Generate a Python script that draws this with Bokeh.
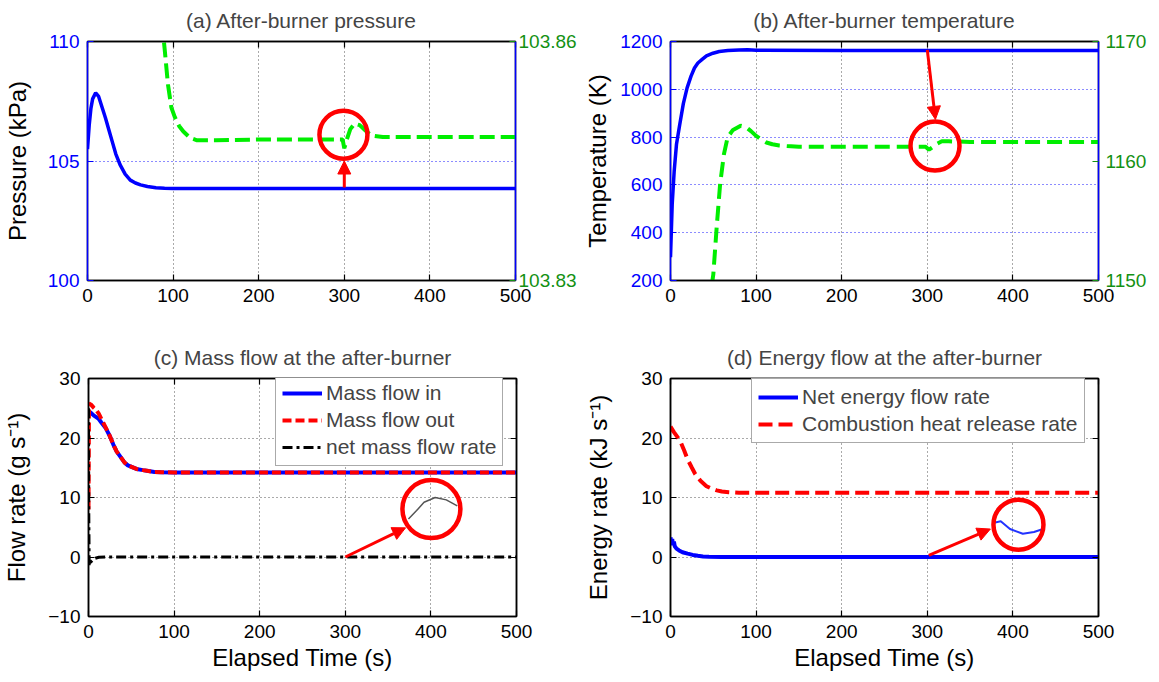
from bokeh.plotting import figure
from bokeh.models import (Range1d, LinearAxis, SingleIntervalTicker, FixedTicker,
                          PrintfTickFormatter, Arrow, NormalHead, Legend, LegendItem, Grid)
from bokeh.layouts import column, row
from bokeh.embed import file_html
from bokeh.resources import INLINE

# ---------------- data ----------------
# (a) after-burner pressure
time_a_in = [0, 2, 4, 6, 9.5, 13, 17, 21, 25, 29, 33, 38, 44, 50, 56, 62, 70, 80, 90, 100, 200, 300, 400, 500]
press_in = [105.5, 106.5, 107.2, 107.6, 107.85, 107.7, 107.25, 106.8, 106.3, 105.8, 105.3, 104.85,
            104.45, 104.2, 104.08, 104.0, 103.93, 103.88, 103.86, 103.85, 103.85, 103.85, 103.85, 103.85]
time_a_zoom = [87, 90, 94, 98, 102, 107, 112, 120, 128, 150, 200, 250, 298, 300, 303, 307, 312, 318,
               325, 332, 345, 400, 450, 500]
press_zoom = [103.8625, 103.8592, 103.8546, 103.8517, 103.8505, 103.8494, 103.8487, 103.8479, 103.8476,
              103.8476, 103.8477, 103.8477, 103.8477, 103.8466, 103.8477, 103.8490, 103.8497, 103.8495,
              103.8488, 103.8482, 103.8480, 103.8480, 103.8480, 103.8480]

# (b) after-burner temperature
time_b_in = [0, 2, 4.3, 7, 10.8, 15, 19.4, 24, 28, 32, 36.6, 42, 49.6, 57, 67, 80, 90, 100, 200, 300, 400, 500]
temp_in = [297, 520, 658, 770, 853, 940, 1006, 1055, 1089, 1110, 1124, 1140, 1151, 1158, 1162, 1164,
           1165, 1163, 1162, 1162, 1162, 1162]
time_b_zoom = [48, 50, 54, 58, 62.5, 66.8, 73, 82, 88, 94, 100, 106, 112, 119, 127, 136, 150, 200, 250,
               298, 302, 306, 310, 317, 325, 350, 400, 450, 500]
temp_zoom = [1149.5, 1150.5, 1154.5, 1158.1, 1160.6, 1162.0, 1162.6, 1162.95, 1162.85, 1162.5, 1162.1,
             1161.8, 1161.55, 1161.4, 1161.3, 1161.25, 1161.2, 1161.2, 1161.2, 1161.2, 1160.95, 1161.15,
             1161.4, 1161.65, 1161.65, 1161.6, 1161.6, 1161.6, 1161.6]

# (c) mass flow
time_c = [0, 0.6, 3, 6, 9, 12, 15, 20, 25, 29, 33, 38, 42, 46, 51, 56, 63.5, 70, 77, 85, 100, 200, 300, 400, 500]
mass_in = [24.5, 24.5, 24.2, 23.8, 23.5, 23.2, 22.6, 21.7, 20.3, 18.9, 17.7, 16.7, 15.9, 15.4, 15.1,
           14.8, 14.6, 14.45, 14.3, 14.25, 14.2, 14.2, 14.2, 14.2, 14.2]
mass_out = [8.0, 25.8, 25.6, 25.1, 24.7, 24.1, 23.2, 21.8, 20.3, 18.9, 17.7, 16.7, 15.9, 15.4, 15.1,
            14.8, 14.6, 14.45, 14.3, 14.25, 14.2, 14.2, 14.2, 14.2, 14.2]
time_c_net = [0, 0.3, 0.8, 1.5, 3, 5, 8, 12, 20, 100, 200, 300, 400, 500]
mass_net = [25.0, 8.0, -1.5, -1.0, -0.8, -0.5, -0.2, -0.05, 0, 0, 0, 0, 0, 0]
inset_c_t = [373.8, 383.3, 392, 405, 418, 430.8]
inset_c_v = [6.4, 7.8, 9.2, 10.0, 9.6, 8.6]

# (d) energy flow
time_d_q = [0, 4, 8, 11.6, 16, 20, 25, 29, 35, 42, 48, 54, 60, 68, 80, 100, 200, 300, 400, 500]
heat_rel = [21.9, 21.0, 20.2, 19.4, 17.9, 16.4, 15.0, 13.9, 12.8, 11.9, 11.5, 11.2, 11.0, 10.9, 10.8,
            10.8, 10.8, 10.8, 10.8, 10.8]
time_d_net = [0, 1, 2, 3, 4, 5, 7, 10, 14, 20, 26, 32, 38, 45, 60, 100, 200, 300, 400, 500]
energy_net = [3.3, 2.2, 3.0, 2.0, 2.6, 1.8, 1.4, 1.1, 0.8, 0.56, 0.35, 0.2, 0.1, 0.05, 0, 0, 0, 0, 0, 0]
inset_d_t = [379.3, 385.8, 396.6, 411.6, 424.6, 435.3]
inset_d_v = [5.8, 6.0, 4.7, 3.9, 4.2, 4.7]

# annotation marks (circle centres, arrow start/end) in data units
circ_a = ([299], [106.1]); arrow_a = (300, 103.89, 300, 105.0)
circ_b = ([309], [762.5]); arrow_b = (300, 1165, 309.5, 874)
circ_c = ([400.6], [8.06]); arrow_c = (300, 0.0, 370.4, 4.9)
circ_d = ([406.5], [5.44]); arrow_d = (301.7, 0.28, 373.7, 4.7)

# ---------------- styling ----------------
FONT = "Liberation Sans"
BLUE = "#0000FF"
GREEN_LINE = "#00EE00"
GREEN_TXT = "#139113"
RED = "#FF0000"
TICK_FS = "19px"
LABEL_FS = "24px"


def style_axis(ax, line_color, tick_color, label_color, show_labels=True):
    ax.axis_line_color = line_color
    ax.axis_line_width = 1.5
    ax.major_tick_line_color = tick_color
    ax.major_tick_line_width = 1.2
    ax.major_tick_in = 6
    ax.major_tick_out = 0
    ax.minor_tick_line_color = None
    ax.major_label_text_font = FONT
    if show_labels:
        ax.major_label_text_color = label_color
        ax.major_label_text_font_size = TICK_FS
        ax.major_label_standoff = 4
    else:
        ax.major_label_text_color = None
        ax.major_label_text_font_size = "1px"
        ax.major_label_standoff = 0
    ax.axis_label_text_font = FONT
    ax.axis_label_text_font_size = LABEL_FS
    ax.axis_label_text_font_style = "normal"
    ax.axis_label_text_color = "black"


def make_panel(title, ylabel, yr, yint, left_color, grid_color, xlabel, bl, br, bt, bb, fh, lstd):
    p = figure(frame_width=428, frame_height=fh, x_range=Range1d(0, 500), y_range=Range1d(*yr),
               output_backend="svg", toolbar_location=None, title=title,
               x_axis_type=None, y_axis_type=None,
               min_border_left=bl, min_border_right=br, min_border_top=bt, min_border_bottom=bb)
    p.background_fill_color = "white"
    p.border_fill_color = "white"
    p.outline_line_color = "black"
    p.outline_line_width = 1.5
    p.title.text_font = FONT
    p.title.text_font_size = "21px"
    p.title.text_font_style = "normal"
    p.title.align = "center"
    p.title.standoff = 12

    xt = SingleIntervalTicker(interval=100)
    yt = SingleIntervalTicker(interval=yint)
    xb = LinearAxis(ticker=xt)
    style_axis(xb, "black", "black", "black")
    if xlabel:
        xb.axis_label = xlabel
        xb.axis_label_standoff = 3
    p.add_layout(xb, "below")
    xa = LinearAxis(ticker=xt)
    style_axis(xa, "black", "black", "black", show_labels=False)
    p.add_layout(xa, "above")
    yl = LinearAxis(ticker=yt, axis_label=ylabel)
    style_axis(yl, left_color, left_color, left_color)
    yl.axis_label_standoff = lstd
    p.add_layout(yl, "left")

    p.add_layout(Grid(dimension=0, ticker=xt, grid_line_color="#444444", grid_line_dash="1 3",
                      grid_line_width=1, grid_line_alpha=0.9))
    p.add_layout(Grid(dimension=1, ticker=yt, grid_line_color=grid_color, grid_line_dash="1 3",
                      grid_line_width=1, grid_line_alpha=0.9))
    return p


def add_marks(p, circ, arrow, size):
    p.scatter(x=circ[0], y=circ[1], marker="circle", size=size, fill_color=None,
              line_color=RED, line_width=4.5)
    xs, ys, xe, ye = arrow
    p.add_layout(Arrow(end=NormalHead(size=13, fill_color=RED, line_color=RED, line_width=1),
                       x_start=xs, y_start=ys, x_end=xe, y_end=ye,
                       line_color=RED, line_width=3))


# ---------------- (a) ----------------
pa = make_panel("(a) After-burner pressure", "Pressure (kPa)", (100, 110), 5, BLUE, BLUE, None,
                84, 66, 38, 57, 239, 14)
pa.extra_y_ranges = {"r": Range1d(103.83, 103.86)}
ra = LinearAxis(y_range_name="r", ticker=FixedTicker(ticks=[103.83, 103.86]),
                formatter=PrintfTickFormatter(format="%.2f"))
style_axis(ra, BLUE, GREEN_TXT, GREEN_TXT)
ra.major_label_standoff = 3
pa.add_layout(ra, "right")
pa.line(time_a_in, press_in, line_color=BLUE, line_width=3.5)
pa.line(time_a_zoom, press_zoom, y_range_name="r", line_color=GREEN_LINE, line_width=4,
        line_dash="15 6")
add_marks(pa, circ_a, arrow_a, 48)

# ---------------- (b) ----------------
pb = make_panel("(b) After-burner temperature", "Temperature (K)", (200, 1200), 200, BLUE, BLUE, None,
                87, 48, 38, 57, 239, 6)
pb.extra_y_ranges = {"r": Range1d(1150, 1170)}
rb = LinearAxis(y_range_name="r", ticker=SingleIntervalTicker(interval=10))
style_axis(rb, BLUE, GREEN_TXT, GREEN_TXT)
rb.major_label_standoff = 3
pb.add_layout(rb, "right")
pb.line(time_b_in, temp_in, line_color=BLUE, line_width=3.5)
pb.line(time_b_zoom, temp_zoom, y_range_name="r", line_color=GREEN_LINE, line_width=4,
        line_dash="15 7")
add_marks(pb, circ_b, arrow_b, 49)

# ---------------- (c) ----------------
pc = make_panel("(c) Mass flow at the after-burner", "Flow rate (g s\u207b\u00b9)", (-10, 30), 10,
                "black", "#444444", "Elapsed Time (s)", 84, 66, 38, 58, 238, 15)
rc = LinearAxis(ticker=SingleIntervalTicker(interval=10))
style_axis(rc, "black", "black", "black", show_labels=False)
pc.add_layout(rc, "right")
c1 = pc.line(time_c, mass_in, line_color=BLUE, line_width=4)
c2 = pc.line(time_c, mass_out, line_color=RED, line_width=4, line_dash="9 4")
c3 = pc.line(time_c_net, mass_net, line_color="black", line_width=3, line_dash="10 4 3 4")
pc.line(inset_c_t, inset_c_v, line_color="#555555", line_width=1.5)
add_marks(pc, circ_c, arrow_c, 58)
leg_c = Legend(items=[LegendItem(label="Mass flow in", renderers=[c1]),
                      LegendItem(label="Mass flow out", renderers=[c2]),
                      LegendItem(label="net mass flow rate", renderers=[c3])],
               location=(187, 150))

# ---------------- (d) ----------------
pd_ = make_panel("(d) Energy flow at the after-burner", "Energy rate (kJ s\u207b\u00b9)", (-10, 30), 10,
                 "black", "#444444", "Elapsed Time (s)", 87, 48, 38, 58, 238, 15)
rd = LinearAxis(ticker=SingleIntervalTicker(interval=10))
style_axis(rd, "black", "black", "black", show_labels=False)
pd_.add_layout(rd, "right")
d1 = pd_.line(time_d_net, energy_net, line_color=BLUE, line_width=4)
d2 = pd_.line(time_d_q, heat_rel, line_color=RED, line_width=4, line_dash="14 6")
pd_.line(inset_d_t, inset_d_v, line_color="#2233FF", line_width=2)
add_marks(pd_, circ_d, arrow_d, 50)
leg_d = Legend(items=[LegendItem(label="Net energy flow rate", renderers=[d1]),
                      LegendItem(label="Combustion heat release rate", renderers=[d2])],
               location=(81, 173))

for leg, p in ((leg_c, pc), (leg_d, pd_)):
    leg.label_text_font = FONT
    leg.label_text_font_size = "21px"
    leg.label_height = 24
    leg.glyph_height = 24
    leg.glyph_width = 40
    leg.label_standoff = 4
    leg.padding = 6
    leg.spacing = 3
    leg.margin = 0
    leg.border_line_color = "#555555"
    leg.border_line_width = 1.5
    leg.background_fill_color = "white"
    leg.background_fill_alpha = 1.0
    p.add_layout(leg, "center")

layout = column(row(pa, pb), row(pc, pd_))
open("out.html", "w").write(file_html(layout, INLINE))
